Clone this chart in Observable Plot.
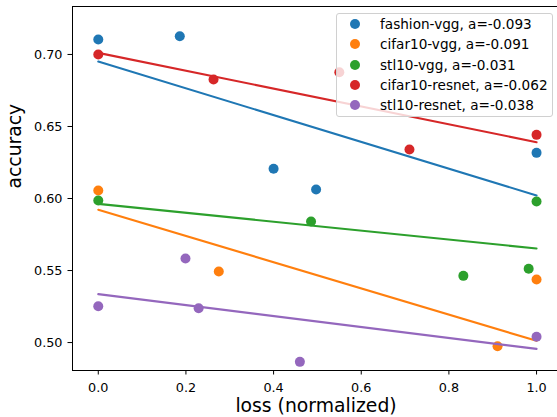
<!DOCTYPE html>
<html>
<head>
<meta charset="utf-8">
<script src="https://cdn.jsdelivr.net/npm/d3@7"></script>
<script src="https://cdn.jsdelivr.net/npm/@observablehq/plot@0.6"></script>
<style>
  html, body { margin: 0; padding: 0; background: #fff; }
  #wrap { position: relative; width: 557px; height: 417px; overflow: hidden; font-family: "DejaVu Sans", sans-serif; }
  #legend { position: absolute; left: 336px; top: 13px; width: 215px; height: 102px; border: 1px solid #d0d0d0; border-radius: 3px; background: rgba(255,255,255,0.8); }
  .row { height: 20.3px; display: flex; align-items: center; font-family: "DejaVu Sans", sans-serif; font-size: 13.6px; color: #000; white-space: nowrap; }
  .sw { width: 10px; height: 10px; border-radius: 50%; margin-left: 13px; margin-right: 20px; flex: none; }
</style>
</head>
<body>
<div id="wrap"><div id="legend"></div></div>
<script>
// ---- data ----
const seriesNames = ["fashion-vgg", "cifar10-vgg", "stl10-vgg", "cifar10-resnet", "stl10-resnet"];
const seriesColors = ["#1f77b4", "#ff7f0e", "#2ca02c", "#d62728", "#9467bd"];

const fashionVggX = [0, 0.186, 0.400, 0.497, 1.0];
const fashionVggY = [0.7104, 0.7127, 0.6206, 0.6063, 0.6317];
const cifar10VggX = [0, 0.275, 0.911, 1.0];
const cifar10VggY = [0.6056, 0.5493, 0.4974, 0.5438];
const stl10VggX = [0, 0.4855, 0.833, 0.982, 1.0];
const stl10VggY = [0.5986, 0.5840, 0.5463, 0.5512, 0.5979];
const cifar10ResnetX = [0, 0.263, 0.550, 0.710, 1.0];
const cifar10ResnetY = [0.7000, 0.6826, 0.6877, 0.6340, 0.6442];
const stl10ResnetX = [0, 0.199, 0.229, 0.460, 1.0];
const stl10ResnetY = [0.5252, 0.5583, 0.5238, 0.4866, 0.5040];

// fitted lines: slope (legend "a") and intercept read at loss = 0
const slopes = [-0.093, -0.091, -0.031, -0.062, -0.038];
const intercepts = [0.6951, 0.5922, 0.5963, 0.7011, 0.5336];
const lineX = [0, 1];

const xTicks = [0, 0.2, 0.4, 0.6, 0.8, 1.0];
const yTicks = [0.50, 0.55, 0.60, 0.65, 0.70];
const xDomain = [-0.0588, 1.0478];
const yDomain = [0.4806, 0.7333];
const xLabel = "loss (normalized)";
const yLabel = "accuracy";

// ---- build tables ----
const xs = [fashionVggX, cifar10VggX, stl10VggX, cifar10ResnetX, stl10ResnetX];
const ys = [fashionVggY, cifar10VggY, stl10VggY, cifar10ResnetY, stl10ResnetY];

const marks = [];
seriesNames.forEach((name, i) => {
  const pts = xs[i].map((x, j) => ({series: name, x, y: ys[i][j]}));
  const line = lineX.map(x => ({series: name, x, y: intercepts[i] + slopes[i] * x}));
  marks.push(Plot.dot(pts, {x: "x", y: "y", r: 5, fill: seriesColors[i], stroke: "none"}));
  marks.push(Plot.line(line, {x: "x", y: "y", stroke: seriesColors[i], strokeWidth: 2.1}));
});

marks.push(Plot.ruleY([yDomain[0]], {stroke: "#000", strokeWidth: 1}));
marks.push(Plot.ruleY([yDomain[1]], {stroke: "#000", strokeWidth: 1}));
marks.push(Plot.ruleX([xDomain[0]], {stroke: "#000", strokeWidth: 1}));
marks.push(Plot.text([xLabel], {frameAnchor: "bottom", text: d => d, dy: 41, dx: 1, lineAnchor: "bottom", fontSize: 18.8, fill: "#000"}));
marks.push(Plot.text([yLabel], {frameAnchor: "left", text: d => d, rotate: -90, dx: -51.5, lineAnchor: "bottom", fontSize: 18.8, fill: "#000"}));

const chart = Plot.plot({
  width: 557,
  height: 417,
  marginLeft: 72,
  marginRight: 0,
  marginTop: 6,
  marginBottom: 47,
  style: {fontFamily: "DejaVu Sans, sans-serif", fontSize: "12.8px", color: "#000", background: "#fff", overflow: "visible"},
  x: {domain: xDomain, ticks: xTicks, tickFormat: d3.format(".1f"), tickSize: 4.5, tickPadding: 7.5, label: null},
  y: {domain: yDomain, ticks: yTicks, tickFormat: d3.format(".2f"), tickSize: 4.5, tickPadding: 5.5, label: null},
  marks
});

const wrap = document.getElementById("wrap");
wrap.insertBefore(chart, wrap.firstChild);

const legend = document.getElementById("legend");
const labels = [];
seriesNames.forEach((name, i) => {
  const row = document.createElement("div");
  row.className = "row";
  const sw = document.createElement("span");
  sw.className = "sw";
  sw.style.background = seriesColors[i];
  const t = document.createElement("span");
  t.textContent = `${name}, a=${slopes[i].toFixed(3)}`;
  row.appendChild(sw);
  row.appendChild(t);
  legend.appendChild(row);
  labels.push(t);
});
// fit legend text so the first entry spans the same width as in the reference
const targetWidth = 151.7;
const w = labels[0].getBoundingClientRect().width;
if (w > 0) {
  const fs = Math.max(11, Math.min(16, 13.6 * targetWidth / w));
  legend.querySelectorAll(".row").forEach(r => r.style.fontSize = fs + "px");
}
</script>
</body>
</html>
